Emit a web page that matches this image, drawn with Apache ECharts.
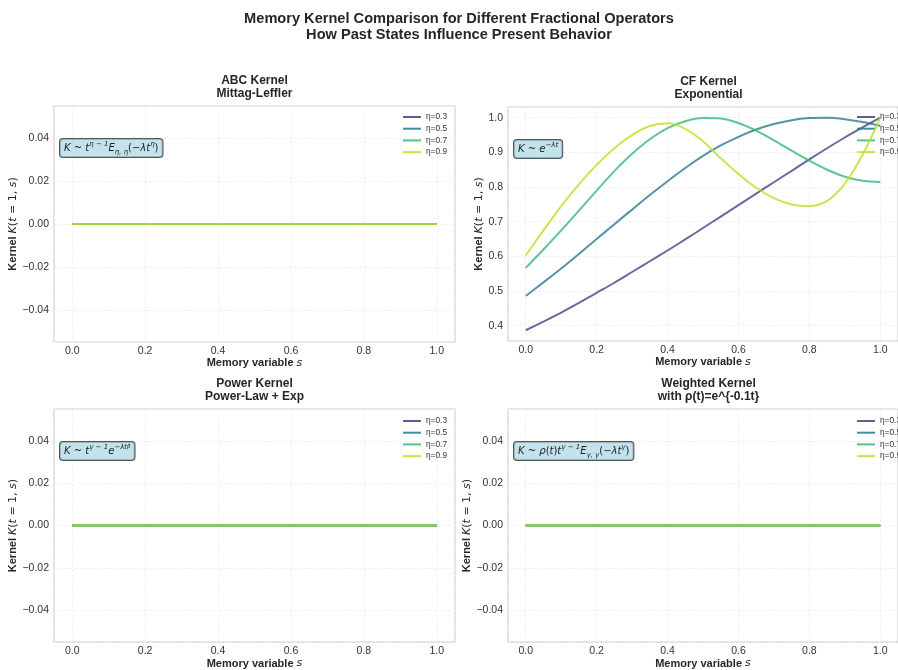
<!DOCTYPE html>
<html><head><meta charset="utf-8">
<script src="https://cdn.jsdelivr.net/npm/echarts@6/dist/echarts.min.js"></script>
<style>html,body{margin:0;padding:0;background:#fff}#c{width:898px;height:670px}</style>
</head><body><div id="c"></div>
<script>
// ---------------- data ----------------
const sValues = [0,0.05,0.1,0.15,0.2,0.25,0.3,0.35,0.4,0.45,0.5,0.55,0.6,0.65,0.7,0.75,0.8,0.85,0.9,0.95,1.0];
const etaLabels = ['η=0.3','η=0.5','η=0.7','η=0.9'];

// ABC kernel (all zero)
const abcEta03 = [0,0,0,0,0,0,0,0,0,0,0,0,0,0,0,0,0,0,0,0,0];
const abcEta05 = [0,0,0,0,0,0,0,0,0,0,0,0,0,0,0,0,0,0,0,0,0];
const abcEta07 = [0,0,0,0,0,0,0,0,0,0,0,0,0,0,0,0,0,0,0,0,0];
const abcEta09 = [0,0,0,0,0,0,0,0,0,0,0,0,0,0,0,0,0,0,0,0,0];

// CF kernel
const cfEta03 = [0.387,0.412,0.438,0.466,0.495,0.524,0.555,0.586,0.617,0.649,0.682,0.715,0.748,0.781,0.814,0.847,0.880,0.912,0.943,0.972,1.000];
const cfEta05 = [0.486,0.525,0.565,0.607,0.650,0.693,0.735,0.777,0.817,0.855,0.890,0.920,0.945,0.966,0.982,0.993,0.999,1.000,0.996,0.988,0.977];
const cfEta07 = [0.567,0.620,0.675,0.732,0.790,0.846,0.896,0.938,0.970,0.990,0.999,0.998,0.985,0.963,0.935,0.905,0.876,0.850,0.830,0.818,0.815];
const cfEta09 = [0.603,0.675,0.745,0.808,0.864,0.912,0.950,0.976,0.984,0.968,0.932,0.883,0.838,0.798,0.768,0.750,0.745,0.760,0.810,0.893,1.000];

// Power kernel (all zero)
const powEta03 = [0,0,0,0,0,0,0,0,0,0,0,0,0,0,0,0,0,0,0,0,0];
const powEta05 = [0,0,0,0,0,0,0,0,0,0,0,0,0,0,0,0,0,0,0,0,0];
const powEta07 = [0,0,0,0,0,0,0,0,0,0,0,0,0,0,0,0,0,0,0,0,0];
const powEta09 = [0,0,0,0,0,0,0,0,0,0,0,0,0,0,0,0,0,0,0,0,0];

// Weighted kernel (all zero)
const wEta03 = [0,0,0,0,0,0,0,0,0,0,0,0,0,0,0,0,0,0,0,0,0];
const wEta05 = [0,0,0,0,0,0,0,0,0,0,0,0,0,0,0,0,0,0,0,0,0];
const wEta07 = [0,0,0,0,0,0,0,0,0,0,0,0,0,0,0,0,0,0,0,0,0];
const wEta09 = [0,0,0,0,0,0,0,0,0,0,0,0,0,0,0,0,0,0,0,0,0];

// tick labels
const xTicks = [0,0.2,0.4,0.6,0.8,1.0];
const yTicksZero = [-0.04,-0.02,0,0.02,0.04];
const yTicksCF = [0.4,0.5,0.6,0.7,0.8,0.9,1.0];

// ---------------- styles / layout ----------------
const colors = ['#414487','#2a788e','#35b779','#bddf26'];
const SANS = 'Liberation Sans, Arial, sans-serif';
const MATH = 'DejaVu Sans, sans-serif';
const TXT = '#262626';

const panels = [
  {title:['ABC Kernel','Mittag-Leffler'], series:[abcEta03,abcEta05,abcEta07,abcEta09], grid:{left:54,top:106,width:401,height:236},
   yMin:-0.055, yMax:0.055, yTicks:yTicksZero, yDec:2, nameGap:32, legend:{left:403,top:112},
   box:{x:60,y:139, rich:'{i|K ~ t}{sup|η − 1}{i|E}{sub|η, η}{n|(}{i|−λt}{sup|η}{n|)}'}},
  {title:['CF Kernel','Exponential'], series:[cfEta03,cfEta05,cfEta07,cfEta09], grid:{left:508,top:107,width:401,height:234},
   yMin:0.356, yMax:1.031, yTicks:yTicksCF, yDec:1, nameGap:17, legend:{left:857,top:112},
   box:{x:514,y:140, rich:'{i|K ~ e}{sup|−λt}'}},
  {title:['Power Kernel','Power-Law + Exp'], series:[powEta03,powEta05,powEta07,powEta09], grid:{left:54,top:409,width:401,height:234},
   yMin:-0.055, yMax:0.055, yTicks:yTicksZero, yDec:2, nameGap:32, legend:{left:403,top:416},
   box:{x:60,y:442, rich:'{i|K ~ t}{sup|γ − 1}{i|e}{sup|−λt}{sup2|β}'}},
  {title:['Weighted Kernel','with ρ(t)=e^{-0.1t}'], series:[wEta03,wEta05,wEta07,wEta09], grid:{left:508,top:409,width:401,height:234},
   yMin:-0.055, yMax:0.055, yTicks:yTicksZero, yDec:2, nameGap:31, legend:{left:857,top:416},
   box:{x:514,y:442, rich:'{i|K ~ ρ}{n|(}{i|t}{n|)}{i|t}{sup|γ − 1}{i|E}{sub|γ, γ}{n|(}{i|−λt}{sup|γ}{n|)}'}}
];

function tickFormatter(ticks, dec){
  return function(v){
    const hit = ticks.find(t => Math.abs(t - v) < 1e-9);
    if (hit === undefined) return '';
    return (Math.abs(hit) < 1e-12 ? 0 : hit).toFixed(dec).replace('-', '−');
  };
}

const grids = [], xAxes = [], yAxes = [], series = [], legends = [], graphics = [];

graphics.push({type:'text', style:{text:'Memory Kernel Comparison for Different Fractional Operators\nHow Past States Influence Present Behavior',
  x:459, y:27, align:'center', verticalAlign:'middle', font:'bold 14.6px '+SANS, fill:TXT, lineHeight:16}});

panels.forEach((p, i) => {
  grids.push(Object.assign({show:true, borderColor:'#d0d0d0', borderWidth:1.2, backgroundColor:'#fff', containLabel:false}, p.grid));
  xAxes.push({type:'value', gridIndex:i, min:-0.05, max:1.05, splitNumber:5,
    axisLine:{show:false}, axisTick:{show:false},
    splitLine:{show:true, lineStyle:{color:'#ececec', type:[3,2], width:0.8}},
    axisLabel:{formatter:tickFormatter(xTicks,1), color:'#333', fontSize:10.5, fontFamily:SANS, margin:4, showMinLabel:false, showMaxLabel:false},
    name:'{b|Memory variable }{i|s}', nameLocation:'middle', nameGap:14,
    nameTextStyle:{color:TXT, rich:{b:{fontWeight:'bold', fontSize:11, fontFamily:SANS, color:TXT}, i:{fontStyle:'italic', fontSize:11, fontFamily:MATH, color:TXT}}}
  });
  yAxes.push({type:'value', gridIndex:i, min:p.yMin, max:p.yMax, splitNumber:5,
    axisLine:{show:false}, axisTick:{show:false},
    splitLine:{show:true, lineStyle:{color:'#ececec', type:[3,2], width:0.8}},
    axisLabel:{formatter:tickFormatter(p.yTicks,p.yDec), color:'#333', fontSize:10.5, fontFamily:SANS, margin:5, showMinLabel:false, showMaxLabel:false},
    name:'{b|Kernel }{i|K}{n|(}{i|t}{n| = 1, }{i|s}{n|)}', nameLocation:'middle', nameGap:p.nameGap, nameRotate:90,
    nameTextStyle:{color:TXT, rich:{b:{fontWeight:'bold', fontSize:11, fontFamily:SANS, color:TXT}, i:{fontStyle:'italic', fontSize:11, fontFamily:MATH, color:TXT}, n:{fontSize:11, fontFamily:MATH, color:TXT}}}
  });
  p.series.forEach((arr, k) => {
    series.push({type:'line', name:etaLabels[k], xAxisIndex:i, yAxisIndex:i,
      data: sValues.map((s, j) => [s, arr[j]]),
      showSymbol:false, symbol:'none', smooth:0.3,
      lineStyle:{color:colors[k], width:2, opacity:0.8}, itemStyle:{color:colors[k]}, z:2+k});
  });
  legends.push({orient:'vertical', left:p.legend.left, top:p.legend.top, padding:0, itemGap:1.7,
    itemWidth:18, itemHeight:2, icon:'rect', data:etaLabels.slice(), selectedMode:false,
    itemStyle:{opacity:0.85},
    textStyle:{fontSize:8.3, color:'#333', fontFamily:SANS, lineHeight:10}});
  const cx = p.grid.left + p.grid.width/2;
  graphics.push({type:'text', style:{text:p.title[0]+'\n'+p.title[1], x:cx, y:p.grid.top-18.5, align:'center', verticalAlign:'middle',
    font:'bold 12px '+SANS, fill:TXT, lineHeight:13}});
  graphics.push({type:'text', z:10, style:{text:p.box.rich, x:p.box.x, y:p.box.y,
    backgroundColor:'rgba(173,216,230,0.75)', borderColor:'#555', borderWidth:1, borderRadius:3, padding:[2,4,1,4],
    rich:{
      i:{fontStyle:'italic', fontSize:10, fontFamily:MATH, fill:'#222', lineHeight:15},
      n:{fontSize:10, fontFamily:MATH, fill:'#222', lineHeight:15},
      sup:{fontStyle:'italic', fontSize:7, fontFamily:MATH, fill:'#222', verticalAlign:'top', lineHeight:9},
      sup2:{fontStyle:'italic', fontSize:5.5, fontFamily:MATH, fill:'#222', verticalAlign:'top', lineHeight:6},
      sub:{fontStyle:'italic', fontSize:7, fontFamily:MATH, fill:'#222', verticalAlign:'bottom', lineHeight:9}
    }}});
});

const chart = echarts.init(document.getElementById('c'), null, {renderer:'canvas'});
chart.setOption({
  animation:false, backgroundColor:'#fff',
  grid:grids, xAxis:xAxes, yAxis:yAxes, series:series, legend:legends, graphic:graphics
});
</script></body></html>
